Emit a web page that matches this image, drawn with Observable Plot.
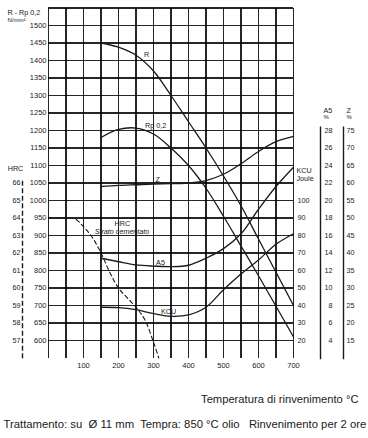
<!DOCTYPE html>
<html>
<head>
<meta charset="utf-8">
<script src="https://cdn.jsdelivr.net/npm/d3@7"></script>
<script src="https://cdn.jsdelivr.net/npm/@observablehq/plot@0.6"></script>
<style>
  html, body { margin: 0; padding: 0; background: #fff; }
</style>
</head>
<body>
<div id="chart"></div>
<script>
// ---- data ----
const temps = [150, 200, 250, 300, 350, 400, 450, 500, 550, 600, 650, 700];
const R     = [1450, 1438, 1415, 1370, 1300, 1225, 1150, 1070, 985, 890, 795, 700];   // N/mm²
const Rp02  = [1180, 1203, 1207, 1190, 1150, 1100, 1035, 955, 870, 785, 698, 610];    // N/mm²
const Z     = [59, 59.3, 59.5, 59.7, 59.8, 60, 60.7, 62.5, 65.5, 69, 71.8, 73.3];    // %
const A5    = [13.4, 13.0, 12.64, 12.5, 12.44, 12.6, 13.4, 14.5, 16.2, 19.0, 21.6, 23.8]; // %
const KCU   = [39, 38.8, 37.6, 35.4, 33.8, 34.6, 39, 49, 58, 66, 75, 81];            // Joule
const hrcTemps  = [0, 50, 75, 100, 125, 150, 175, 200, 225, 250, 275, 300, 315];
const hrcValues = [64, 64, 63.96, 63.5, 62.9, 62, 60.9, 60, 59.44, 58.9, 58.2, 56.9, 56];

// tick labels
const xTicks   = [100, 200, 300, 400, 500, 600, 700];
const yTicks   = d3.range(600, 1501, 50);
const hrcTicks = [66, 65, 64, 63, 62, 61, 60, 59, 58, 57];
const kcuTicks = [100, 90, 80, 70, 60, 50, 40, 30, 20];
const a5Ticks  = [28, 26, 24, 22, 20, 18, 16, 14, 12, 10, 8, 6, 4];
const zTicks   = [75, 70, 65, 60, 55, 50, 45, 40, 35, 30, 25, 20, 15];
const gridX = d3.range(0, 701, 50);
const gridY = d3.range(600, 1551, 50);

// secondary scales mapped onto the N/mm² axis
const fromHRC = h => 1050 - (66 - h) * 50;
const fromKCU = k => 500 + 5 * k;
const fromA5  = a => 500 + 25 * a;
const fromZ   = z => 450 + 10 * z;

const rows = (xs, ys, f = v => v) => xs.map((t, i) => ({t, v: f(ys[i])}));

const ink = "#1a1a1a";
const lbl = {fill: ink, fontSize: 7.2};

const chart = Plot.plot({
  width: 368,
  height: 438,
  marginLeft: 48,
  marginRight: 75,
  marginTop: 7.5,
  marginBottom: 80.5,
  x: {domain: [0, 700]},
  y: {domain: [550, 1550]},
  style: {fontFamily: "'Liberation Sans', Arial, sans-serif", fontSize: "7.5px", color: ink, background: "#fff"},
  marks: [
    // grid
    Plot.gridX(gridX, {stroke: "#000", strokeOpacity: 0.85, strokeWidth: 1.2, shapeRendering: "crispEdges"}),
    Plot.gridY(gridY, {stroke: "#000", strokeOpacity: 0.85, strokeWidth: 1.2, shapeRendering: "crispEdges"}),
    // axes
    Plot.axisY(yTicks, {anchor: "left", tickSize: 0, tickPadding: 2, label: null, tickFormat: d => String(d), fontSize: 7.5, fill: ink}),
    Plot.axisX(xTicks, {anchor: "bottom", tickSize: 0, tickPadding: 5, label: null, tickFormat: d => String(d), fontSize: 7.5, fill: ink}),
    Plot.text(["R - Rp 0,2"], {frameAnchor: "top-left", dx: -41, dy: 2, textAnchor: "start", ...lbl}),
    Plot.text(["N/mm²"], {frameAnchor: "top-left", dx: -41, dy: 9.5, textAnchor: "start", ...lbl, fontSize: 6}),
    // HRC axis (left)
    Plot.ruleX([0], {y1: 1055, y2: 548, dx: -26, stroke: ink, strokeWidth: 1.4, strokeDasharray: "5,2.5"}),
    Plot.text(hrcTicks, {y: d => fromHRC(d), text: d => d, frameAnchor: "left", dx: -28, textAnchor: "end", ...lbl}),
    Plot.text(["HRC"], {y: 1091, frameAnchor: "left", dx: -33, textAnchor: "middle", ...lbl}),
    // KCU axis (right)
    Plot.text(kcuTicks, {y: d => fromKCU(d), text: d => d, frameAnchor: "right", dx: 4, textAnchor: "start", ...lbl}),
    Plot.text(["KCU"], {y: 1084, frameAnchor: "right", dx: 3, textAnchor: "start", ...lbl}),
    Plot.text(["Joule"], {y: 1062, frameAnchor: "right", dx: 3, textAnchor: "start", ...lbl}),
    // A5 axis
    Plot.ruleX([700], {y1: 1210, y2: 545, dx: 27, stroke: ink, strokeWidth: 1.4}),
    Plot.text(a5Ticks, {y: d => fromA5(d), text: d => d, frameAnchor: "right", dx: 39, textAnchor: "end", ...lbl}),
    Plot.text(["A5"], {y: 1257, frameAnchor: "right", dx: 30, textAnchor: "start", ...lbl}),
    Plot.text(["%"], {y: 1238, frameAnchor: "right", dx: 30, textAnchor: "start", ...lbl, fontSize: 6}),
    // Z axis
    Plot.ruleX([700], {y1: 1210, y2: 545, dx: 50, stroke: ink, strokeWidth: 1.4}),
    Plot.text(zTicks, {y: d => fromZ(d), text: d => d, frameAnchor: "right", dx: 53, textAnchor: "start", ...lbl}),
    Plot.text(["Z"], {y: 1257, frameAnchor: "right", dx: 53, textAnchor: "start", ...lbl}),
    Plot.text(["%"], {y: 1238, frameAnchor: "right", dx: 53, textAnchor: "start", ...lbl, fontSize: 6}),
    // curves
    Plot.line(rows(temps, R),             {x: "t", y: "v", curve: "catmull-rom", stroke: ink, strokeWidth: 1.3}),
    Plot.line(rows(temps, Rp02),          {x: "t", y: "v", curve: "catmull-rom", stroke: ink, strokeWidth: 1.3}),
    Plot.line(rows(temps, Z, fromZ),      {x: "t", y: "v", curve: "catmull-rom", stroke: ink, strokeWidth: 1.3}),
    Plot.line(rows(temps, A5, fromA5),    {x: "t", y: "v", curve: "catmull-rom", stroke: ink, strokeWidth: 1.3}),
    Plot.line(rows(temps, KCU, fromKCU),  {x: "t", y: "v", curve: "catmull-rom", stroke: ink, strokeWidth: 1.3}),
    Plot.line(rows(hrcTemps, hrcValues, fromHRC), {x: "t", y: "v", curve: "catmull-rom", stroke: ink, strokeWidth: 1.1, strokeDasharray: "4,3"}),
    // curve labels
    Plot.text([{t: 280, v: 1416, s: "R"}], {x: "t", y: "v", text: "s", textAnchor: "middle", ...lbl}),
    Plot.text([{t: 276, v: 1215, s: "Rp 0,2"}], {x: "t", y: "v", text: "s", textAnchor: "start", ...lbl}),
    Plot.text([{t: 312, v: 1060, s: "Z"}], {x: "t", y: "v", text: "s", textAnchor: "middle", ...lbl}),
    Plot.text([{t: 320, v: 823, s: "A5"}], {x: "t", y: "v", text: "s", textAnchor: "middle", ...lbl}),
    Plot.text([{t: 343, v: 681, s: "KCU"}], {x: "t", y: "v", text: "s", textAnchor: "middle", ...lbl}),
    Plot.text([{t: 211, v: 933, s: "HRC"}], {x: "t", y: "v", text: "s", textAnchor: "middle", ...lbl}),
    Plot.text([{t: 210, v: 911, s: "Strato cementato"}], {x: "t", y: "v", text: "s", textAnchor: "middle", fontStyle: "italic", ...lbl}),
    // bottom texts
    Plot.text(["Temperatura di rinvenimento °C"], {frameAnchor: "bottom-right", dx: 65, dy: 44.5, textAnchor: "end", fill: ink, fontSize: 11.2}),
    Plot.text(["Trattamento: su\u00a0 Ø 11 mm\u00a0 Tempra: 850 °C olio\u00a0\u00a0 Rinvenimento per 2 ore"], {frameAnchor: "bottom-left", dx: -45, dy: 69.5, textAnchor: "start", fill: ink, fontSize: 11.3})
  ]
});
document.getElementById("chart").appendChild(chart);
</script>
</body>
</html>
